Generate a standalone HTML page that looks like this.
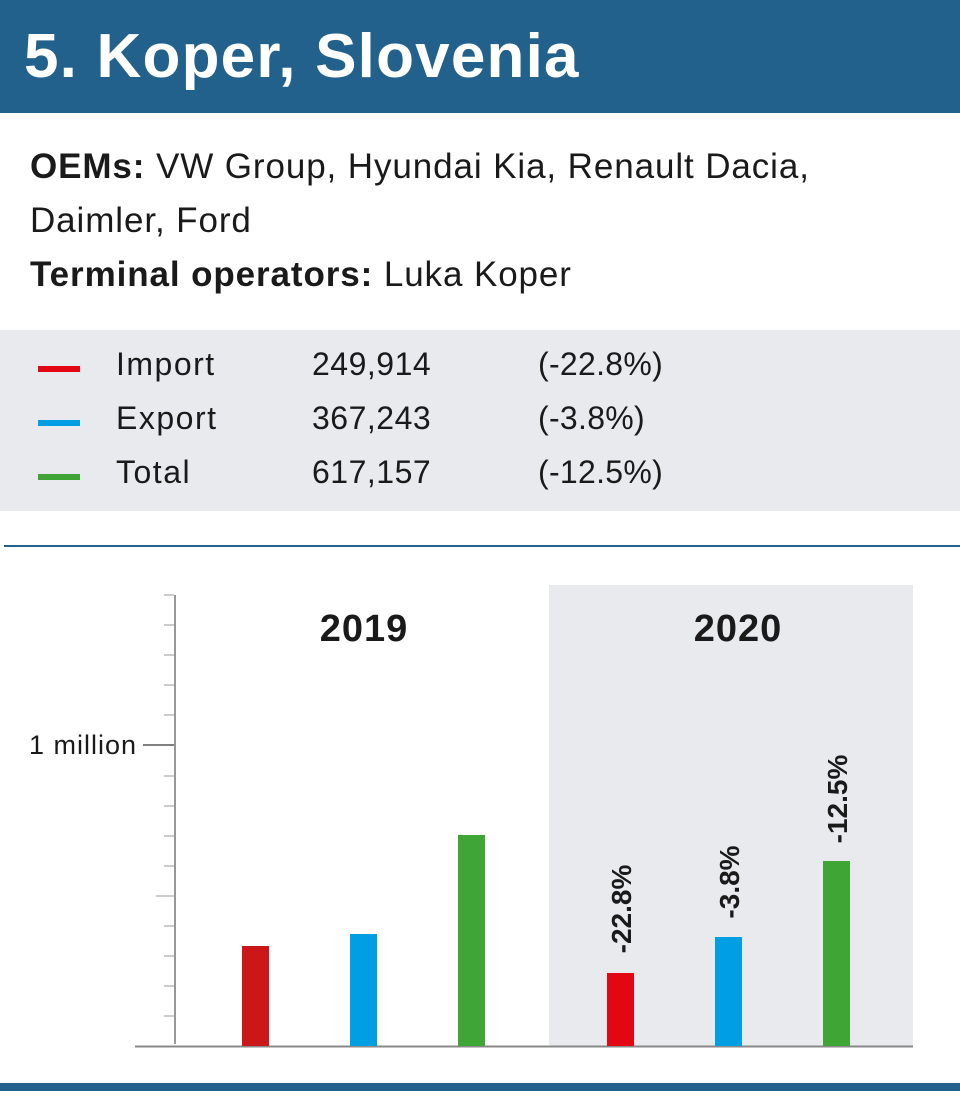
<!DOCTYPE html>
<html><head><meta charset="utf-8"><style>
body{margin:0;width:960px;height:1100px;background:#fff;font-family:"Liberation Sans",sans-serif;color:#1a1a1a;position:relative;overflow:hidden}
.abs{position:absolute}
</style></head><body>
<div class="abs" style="left:0;top:0;width:960px;height:113px;background:#22618b"></div>
<div class="abs" style="left:24px;top:21px;font-size:62px;font-weight:bold;color:#fff;line-height:72px;letter-spacing:1.2px">5. Koper, Slovenia</div>
<div class="abs" style="left:30px;top:140px;font-size:35px;line-height:54px;width:930px;letter-spacing:0.9px">
<b>OEMs:</b> VW Group, Hyundai Kia, Renault Dacia,<br>Daimler, Ford<br><b>Terminal operators:</b> Luka Koper</div>
<div class="abs" style="left:0;top:330px;width:960px;height:181px;background:#e9eaee"></div>
<div class="abs" style="left:38px;top:366px;width:42px;height:6px;background:#e30613"></div>
<div class="abs" style="left:38px;top:420px;width:42px;height:6px;background:#009fe3"></div>
<div class="abs" style="left:38px;top:474px;width:42px;height:6px;background:#3fa535"></div>
<div class="abs" style="left:116px;top:337px;font-size:32px;line-height:54px;letter-spacing:1.5px">Import<br>Export<br>Total</div>
<div class="abs" style="left:312px;top:337px;font-size:32px;line-height:54px;letter-spacing:0.5px">249,914<br>367,243<br>617,157</div>
<div class="abs" style="left:538px;top:337px;font-size:32px;line-height:54px;letter-spacing:0.3px">(-22.8%)<br>(-3.8%)<br>(-12.5%)</div>
<div class="abs" style="left:4px;top:545px;width:956px;height:2px;background:#22618b"></div>
<svg class="abs" style="left:0;top:0" width="960" height="1100">
<rect x="549" y="585" width="364" height="461" fill="#e9eaee"/>
<g stroke="#999" stroke-width="1">
<line x1="164" y1="595" x2="174" y2="595"/><line x1="164" y1="625" x2="174" y2="625"/><line x1="164" y1="655" x2="174" y2="655"/><line x1="164" y1="685" x2="174" y2="685"/><line x1="164" y1="715" x2="174" y2="715"/>
<line x1="164" y1="776" x2="174" y2="776"/><line x1="164" y1="806" x2="174" y2="806"/><line x1="164" y1="836" x2="174" y2="836"/><line x1="164" y1="866" x2="174" y2="866"/><line x1="156" y1="896" x2="174" y2="896"/><line x1="164" y1="926" x2="174" y2="926"/><line x1="164" y1="956" x2="174" y2="956"/><line x1="164" y1="986" x2="174" y2="986"/><line x1="164" y1="1016" x2="174" y2="1016"/>
</g>
<line x1="143" y1="745" x2="174" y2="745" stroke="#555" stroke-width="1.5"/>
<line x1="175" y1="595" x2="175" y2="1044" stroke="#777" stroke-width="1.5"/>
<line x1="135" y1="1046.5" x2="913" y2="1046.5" stroke="#888" stroke-width="2"/>
<rect x="242" y="946" width="27" height="100" fill="#cc1719"/>
<rect x="350" y="934" width="27" height="112" fill="#009fe3"/>
<rect x="458" y="835" width="27" height="211" fill="#3fa535"/>
<rect x="607" y="973" width="27" height="73" fill="#e30613"/>
<rect x="715" y="937" width="27" height="109" fill="#009fe3"/>
<rect x="823" y="861" width="27" height="185" fill="#3fa535"/>
<g font-family="Liberation Sans, sans-serif" font-weight="bold" font-size="28" fill="#1a1a1a">
<text x="137" y="754" text-anchor="end" font-weight="normal" font-size="27" letter-spacing="1">1 million</text>
<text x="364" y="641" text-anchor="middle" font-size="38" letter-spacing="1">2019</text>
<text x="738" y="641" text-anchor="middle" font-size="38" letter-spacing="1">2020</text>
<text transform="translate(631,909) rotate(-90)" text-anchor="middle">-22.8%</text>
<text transform="translate(739,882) rotate(-90)" text-anchor="middle">-3.8%</text>
<text transform="translate(847,799) rotate(-90)" text-anchor="middle">-12.5%</text>
</g>
<rect x="0" y="1083" width="960" height="8" fill="#22618b"/>
</svg>
</body></html>
